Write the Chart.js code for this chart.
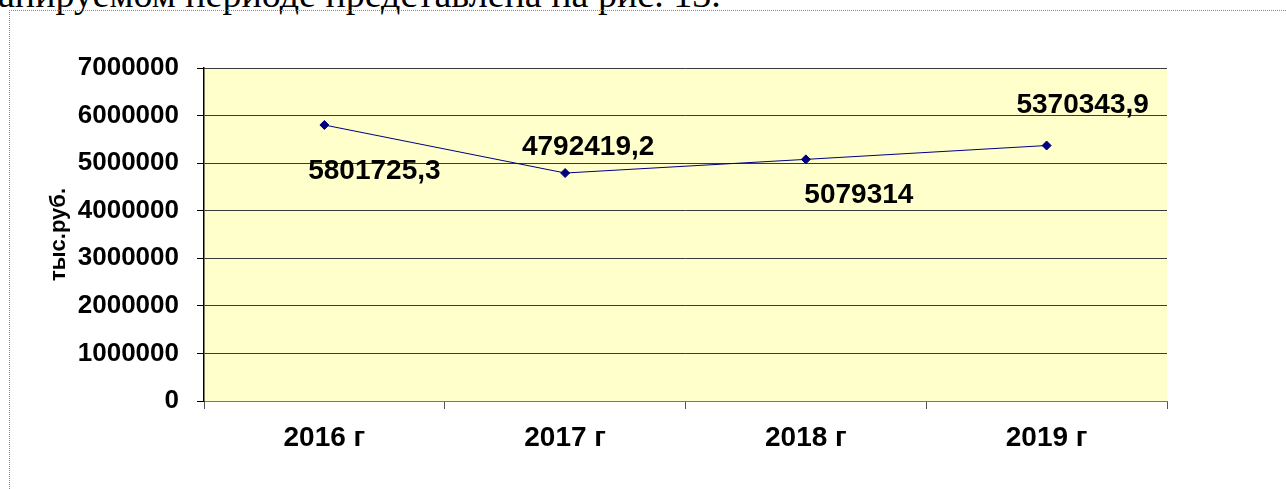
<!DOCTYPE html>
<html>
<head>
<meta charset="utf-8">
<script src="https://cdn.jsdelivr.net/npm/chart.js@4/dist/chart.umd.min.js"></script>
<style>
  html, body { margin: 0; padding: 0; background: #fff; overflow: hidden; }
  #wrap { position: relative; width: 1286px; height: 489px; }
  #caption {
    position: absolute; left: -2px; top: -25px; white-space: nowrap;
    font-family: "Liberation Serif", "Times New Roman", serif;
    font-size: 38px; line-height: 38px; color: #000;
  }
  #frame {
    position: absolute; left: 9px; top: 10px; width: 1300px; height: 500px;
    border-left: 1px dotted #8a8a8a; border-top: 1px dotted #8a8a8a;
  }
  #chartBox { position: absolute; left: 0; top: 0; width: 1286px; height: 489px; }
</style>
</head>
<body>
<div id="wrap">
  <div id="caption">анируемом периоде представлена на рис. 13.</div>
  <div id="frame"></div>
  <div id="chartBox"><canvas id="myChart" width="1286" height="489"></canvas></div>
</div>
<script>
const years = ["2016 г", "2017 г", "2018 г", "2019 г"];
const revenue = [5801725.3, 4792419.2, 5079314, 5370343.9];
const yTicks = [0, 1000000, 2000000, 3000000, 4000000, 5000000, 6000000, 7000000];
const yTitle = "тыс.руб.";

document.addEventListener('DOMContentLoaded', () => {
    // pale yellow plot area
    const plotBg = {
        id: 'plotBg',
        beforeDraw(chart) {
            const { ctx, chartArea: a } = chart;
            ctx.save();
            ctx.fillStyle = '#FFFFCC';
            ctx.fillRect(a.left, a.top, a.right - a.left, a.bottom - a.top);
            ctx.restore();
        }
    };

    // value labels, moved around the points like in the original
    const labelShift = [[50, 46], [23, -26], [53, 36], [36, -40]];
    const valueLabels = {
        id: 'valueLabels',
        afterDatasetsDraw(chart) {
            const { ctx } = chart;
            const meta = chart.getDatasetMeta(0);
            ctx.save();
            ctx.font = 'bold 28px "Liberation Sans", Arial, sans-serif';
            ctx.fillStyle = '#000';
            ctx.textAlign = 'center';
            ctx.textBaseline = 'middle';
            meta.data.forEach((pt, i) => {
                const txt = String(revenue[i]).replace('.', ',');
                ctx.fillText(txt, pt.x + labelShift[i][0], pt.y + labelShift[i][1]);
            });
            ctx.restore();
        }
    };

    const config = {
        type: 'line',
        data: {
            labels: years,
            datasets: [{
                data: revenue,
                borderColor: '#000080',
                borderWidth: 1,
                pointStyle: 'rectRot',
                pointRadius: 4.5,
                pointBackgroundColor: '#000080',
                pointBorderColor: '#000080',
                tension: 0
            }]
        },
        options: {
            responsive: false,
            animation: false,
            layout: { padding: { top: 68, right: 119, left: 0, bottom: 0 } },
            plugins: {
                legend: { display: false },
                tooltip: { enabled: false }
            },
            scales: {
                x: {
                    offset: true,
                    afterFit: (s) => { s.height = 88; },
                    grid: {
                        offset: true,
                        drawOnChartArea: false,
                        tickLength: 8,
                        color: '#555'
                    },
                    border: { color: '#777', width: 1 },
                    ticks: {
                        color: '#000',
                        padding: 12,
                        maxRotation: 0,
                        font: { family: '"Liberation Sans", Arial, sans-serif', size: 28, weight: 'bold' }
                    }
                },
                y: {
                    min: 0,
                    max: 7000000,
                    afterFit: (s) => { s.width = 204; },
                    afterBuildTicks: (s) => { s.ticks = yTicks.map(v => ({ value: v })); },
                    grid: {
                        color: '#3a3a3a',
                        tickColor: '#000',
                        tickLength: 7
                    },
                    border: { color: '#000', width: 1.5 },
                    ticks: {
                        color: '#000',
                        padding: 18,
                        callback: (v) => String(v),
                        font: { family: '"Liberation Sans", Arial, sans-serif', size: 26, weight: 'bold' }
                    },
                    title: {
                        display: true,
                        text: yTitle,
                        color: '#000',
                        padding: { top: 46, bottom: 0 },
                        font: { family: '"Liberation Sans", Arial, sans-serif', size: 22, weight: 'bold' }
                    }
                }
            }
        },
        plugins: [plotBg, valueLabels]
    };

    const ctx = document.getElementById('myChart').getContext('2d');
    new Chart(ctx, config);
});
</script>
</body>
</html>
